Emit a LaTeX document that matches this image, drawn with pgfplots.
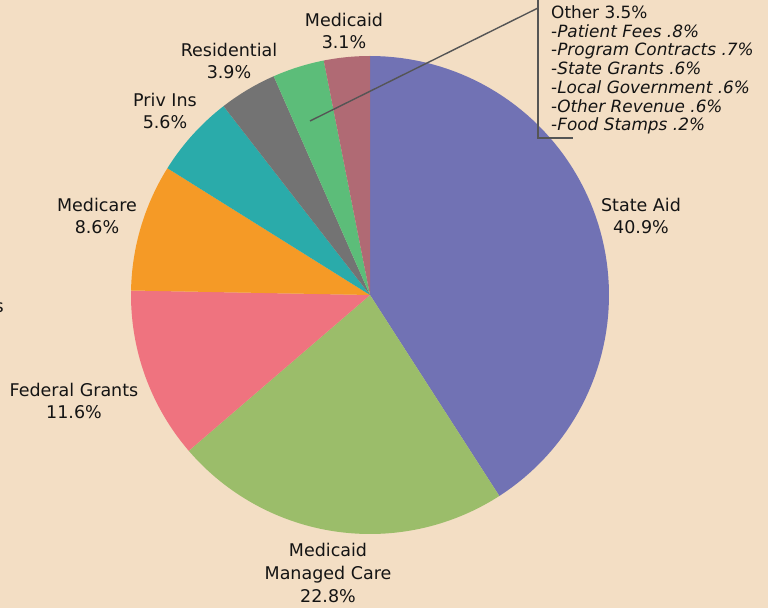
\documentclass[border=0pt]{standalone}
\usepackage{pgfplots}
\pgfplotsset{compat=1.18}
\usepackage{fontspec}
\setmainfont{DejaVu Sans}
\definecolor{bg}{HTML}{F3DEC4}
\definecolor{cState}{HTML}{7172B4}
\definecolor{cMMC}{HTML}{9BBD6A}
\definecolor{cFed}{HTML}{EF737F}
\definecolor{cMedicare}{HTML}{F59A26}
\definecolor{cPriv}{HTML}{2AABAA}
\definecolor{cRes}{HTML}{737373}
\definecolor{cOther}{HTML}{5CBD79}
\definecolor{cMedicaid}{HTML}{B06A74}
\definecolor{lead}{HTML}{555555}
\def\cx{370}\def\cy{313}\def\pr{239}
\xdef\cum{0}
\newcommand\pieslice[2]{%
  \pgfmathsetmacro\wa{90-3.6*(\cum+#1)}%
  \pgfmathsetmacro\wb{90-3.6*\cum}%
  \edef\temp{\noexpand\addplot[fill=#2,draw=none,domain=\wa:\wb,samples=80,variable=\noexpand\t]
    ({\cx+\pr*cos(\noexpand\t)},{\cy+\pr*sin(\noexpand\t)}) -- (axis cs:\cx,\cy) -- cycle;}%
  \temp
  \pgfmathsetmacro\newcum{\cum+#1}\xdef\cum{\newcum}%
}
\begin{document}
\begin{tikzpicture}[x=1pt,y=1pt]
\fill[bg] (0,0) rectangle (768,608);
\begin{axis}[at={(0,0)},anchor=south west,width=768pt,height=608pt,scale only axis,
  hide axis,xmin=0,xmax=768,ymin=0,ymax=608,clip=false]
\pieslice{40.9}{cState}
\pieslice{22.8}{cMMC}
\pieslice{11.6}{cFed}
\pieslice{8.6}{cMedicare}
\pieslice{5.6}{cPriv}
\pieslice{3.9}{cRes}
\pieslice{3.5}{cOther}
\pieslice{3.1}{cMedicaid}
\draw[lead,line width=1.4pt] (axis cs:310,487) -- (axis cs:538,600);
\draw[lead,line width=1.4pt] (axis cs:538,612) -- (axis cs:538,470) -- (axis cs:573,470);
\tikzset{lbl/.style={align=center,inner sep=0pt,font=\fontsize{17.5}{22}\selectfont,text=black!92}}
\node[lbl] at (axis cs:344,577) {Medicaid\\3.1\%};
\node[lbl] at (axis cs:229,547) {Residential\\3.9\%};
\node[lbl] at (axis cs:165,497) {Priv Ins\\5.6\%};
\node[lbl] at (axis cs:97,392) {Medicare\\8.6\%};
\node[lbl] at (axis cs:74,207) {Federal Grants\\11.6\%};
\node[lbl,font=\fontsize{17.5}{23}\selectfont] at (axis cs:328,35) {Medicaid\\Managed Care\\22.8\%};
\node[lbl] at (axis cs:641,392) {State Aid\\40.9\%};
\node[lbl,anchor=base east] at (axis cs:4,295) {s};
\tikzset{oth/.style={anchor=base west,inner sep=0pt,font=\fontsize{16.9}{19}\selectfont,text=black!92}}
\node[oth] at (axis cs:551,589.5) {Other 3.5\%};
\node[oth] at (axis cs:551,570.75) {-\textit{Patient Fees .8\%}};
\node[oth] at (axis cs:551,552) {-\textit{Program Contracts .7\%}};
\node[oth] at (axis cs:551,533.25) {-\textit{State Grants .6\%}};
\node[oth] at (axis cs:551,514.5) {-\textit{Local Government .6\%}};
\node[oth] at (axis cs:551,495.75) {-\textit{Other Revenue .6\%}};
\node[oth] at (axis cs:551,477) {-\textit{Food Stamps .2\%}};
\end{axis}
\pgfresetboundingbox
\useasboundingbox (0,0) rectangle (768,608);
\end{tikzpicture}
\end{document}
